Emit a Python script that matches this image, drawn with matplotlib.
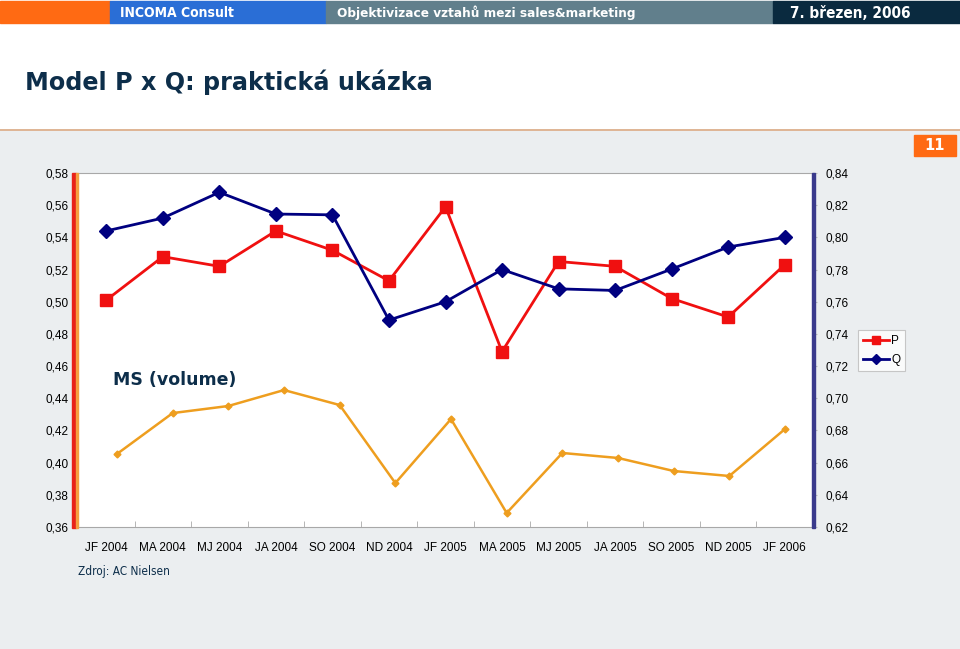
import matplotlib.pyplot as plt
from matplotlib.patches import Rectangle
from matplotlib.lines import Line2D

W, H = 960, 649

periods = ["JF 2004", "MA 2004", "MJ 2004", "JA 2004", "SO 2004", "ND 2004", "JF 2005",
           "MA 2005", "MJ 2005", "JA 2005", "SO 2005", "ND 2005", "JF 2006"]
p_values = [0.501, 0.528, 0.522, 0.544, 0.532, 0.513, 0.559,
            0.469, 0.525, 0.522, 0.502, 0.4905, 0.523]
q_values = [0.804, 0.812, 0.828, 0.8145, 0.814, 0.7486, 0.760,
            0.780, 0.768, 0.767, 0.7803, 0.794, 0.800]
ms_values = [0.4054, 0.4308, 0.4352, 0.4451, 0.4358, 0.3873, 0.4271,
             0.3687, 0.406, 0.4029, 0.3948, 0.3917, 0.4209]
left_ticks = [0.36, 0.38, 0.40, 0.42, 0.44, 0.46, 0.48, 0.50, 0.52, 0.54, 0.56, 0.58]
right_ticks = [0.62, 0.64, 0.66, 0.68, 0.70, 0.72, 0.74, 0.76, 0.78, 0.80, 0.82, 0.84]


def px_rect(x0, y0, x1, y1):
    # pixel box (top-left origin) -> figure fraction rect
    return [x0 / W, 1 - y1 / H, (x1 - x0) / W, (y1 - y0) / H]


def fmt(v):
    return f"{v:.2f}".replace(".", ",")


fig = plt.figure(figsize=(W / 100, H / 100), dpi=100)
fig.patch.set_facecolor("white")

# page background and header
fig.patches.append(Rectangle((0, 0), 1, 1 - 131 / H, transform=fig.transFigure,
                             color="#EBEEF0", zorder=-10))
fig.add_artist(Line2D([0, 1], [1 - 130 / H] * 2, color="#D9A882", lw=1.2, zorder=-9))
bands = [(0, 110, "#FF6A13"), (110, 326, "#2A6ED6"), (326, 773, "#617F8C"), (773, 960, "#0A2A3F")]
for x0, x1, c in bands:
    fig.patches.append(Rectangle((x0 / W, 1 - 23 / H), (x1 - x0) / W, 22 / H,
                                 transform=fig.transFigure, color=c, zorder=-9))
hdr = dict(color="white", fontweight="bold", va="center", fontstretch="condensed")
fig.text(120 / W, 1 - 13 / H, "INCOMA Consult", fontsize=10, **hdr)
fig.text(337 / W, 1 - 13 / H, "Objektivizace vztahů mezi sales&marketing", fontsize=9.7, **hdr)
fig.text(790 / W, 1 - 13 / H, "7. březen, 2006", fontsize=11, **hdr)
fig.text(25 / W, 1 - 82 / H, "Model P x Q: praktická ukázka", color="#0D2E4A",
         fontsize=17.2, fontweight="bold", va="center")
fig.patches.append(Rectangle((914 / W, 1 - 156 / H), 42 / W, 21 / H,
                             transform=fig.transFigure, color="#FF6A13", zorder=1))
fig.text(935 / W, 1 - 145.5 / H, "11", color="white", fontsize=10.5, fontweight="bold",
         ha="center", va="center")

# main axes: P on left, Q on right
ax = fig.add_axes(px_rect(78, 173, 813, 527))
ax.set_facecolor("white")
x = list(range(len(periods)))
ax.plot(x, p_values, color="#F01010", lw=2, marker="s", ms=8.5, label="P", zorder=3)
ax.set_xlim(-0.5, len(periods) - 0.5)
ax.set_ylim(0.36, 0.58)
ax.set_yticks(left_ticks)
ax.set_yticklabels([fmt(v) for v in left_ticks], fontsize=8.5, family="Liberation Sans")
ax.set_xticks(x)
ax.set_xticklabels(periods, fontsize=8.5, family="Liberation Sans")
ax.set_xticks([i + 0.5 for i in x[:-1]], minor=True)
ax.tick_params(axis="x", which="major", length=0, pad=11)
ax.tick_params(axis="x", which="minor", length=4, direction="in", color="#AAAAAA")
ax.tick_params(axis="y", length=3, color="#BBBBBB", pad=4)
for s in ["top", "bottom"]:
    ax.spines[s].set_color("#A8A8A8")
ax.spines["left"].set_visible(False)
ax.spines["right"].set_visible(False)

ax2 = ax.twinx()
ax2.plot(x, q_values, color="#000080", lw=2, marker="D", ms=7, label="Q", zorder=3)
ax2.set_ylim(0.62, 0.84)
ax2.set_yticks(right_ticks)
ax2.set_yticklabels([fmt(v) for v in right_ticks], fontsize=8.5, family="Liberation Sans")
ax2.tick_params(axis="y", length=3, color="#BBBBBB", pad=6)
for s in ["top", "bottom", "left", "right"]:
    ax2.spines[s].set_visible(False)

# coloured axis bars
fig.patches.append(Rectangle((72 / W, 1 - 528 / H), 4 / W, 355 / H, transform=fig.transFigure,
                             color="#E8221A", zorder=5))
fig.patches.append(Rectangle((76 / W, 1 - 528 / H), 1.5 / W, 355 / H, transform=fig.transFigure,
                             color="#F5A040", zorder=5))
fig.patches.append(Rectangle((812 / W, 1 - 528 / H), 3 / W, 355 / H, transform=fig.transFigure,
                             color="#3A3A8C", zorder=5))

# MS (volume) overlay
ax3 = fig.add_axes(px_rect(117, 173, 785, 527))
ax3.patch.set_visible(False)
ax3.plot(x, ms_values, color="#EE9E1F", lw=1.8, marker="D", ms=3.5, clip_on=False)
ax3.set_xlim(0, len(periods) - 1)
ax3.set_ylim(0.36, 0.58)
ax3.axis("off")
fig.text(113 / W, 1 - 380 / H, "MS (volume)", color="#0D2E4A", fontsize=12.5,
         fontweight="bold", va="center")

handles = [Line2D([], [], color="#F01010", lw=2, marker="s", ms=6),
           Line2D([], [], color="#000080", lw=2, marker="D", ms=5)]
leg = fig.legend(handles, ["P", "Q"], loc="upper left", bbox_to_anchor=(858 / W, 1 - 330 / H),
                 frameon=True, fancybox=False, prop={"family": "Liberation Sans", "size": 8.5},
                 handlelength=2.2, borderpad=0.4, labelspacing=0.65, handletextpad=0.2,
                 borderaxespad=0)
leg.get_frame().set_edgecolor("#BBBBBB")
leg.get_frame().set_linewidth(0.8)

fig.text(78 / W, 1 - 572 / H, "Zdroj: AC Nielsen", color="#0D2E4A", fontsize=8.5,
         fontstretch="condensed", va="center")

fig.savefig("out.png", dpi=100, facecolor=fig.get_facecolor())
